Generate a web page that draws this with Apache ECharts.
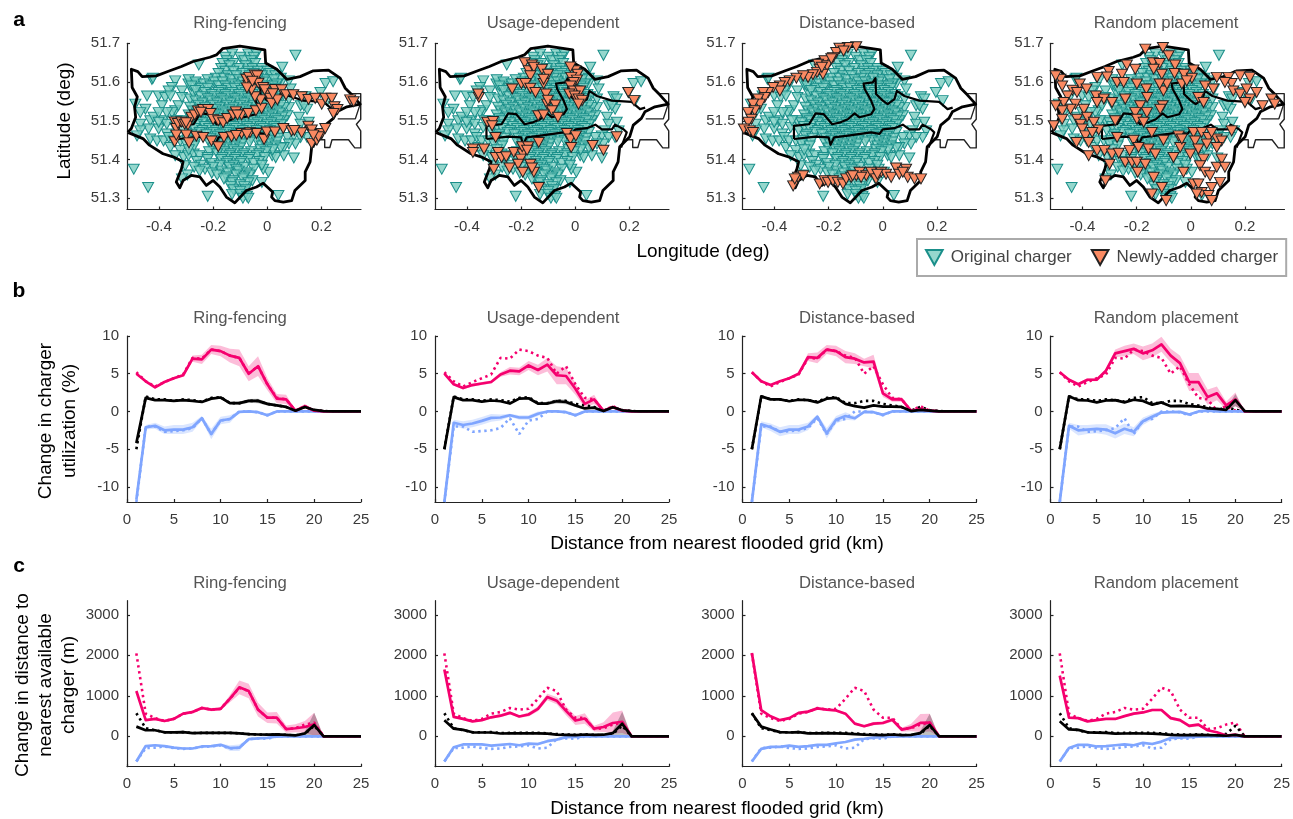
<!DOCTYPE html>
<html><head><meta charset="utf-8">
<style>html,body{margin:0;padding:0;background:#fff}#c{width:1293px;height:819px}</style>
<script src="https://cdn.jsdelivr.net/npm/echarts@6/dist/echarts.min.js"></script>
</head><body><div id="c"></div><script>
const strategies=['Ring-fencing','Usage-dependent','Distance-based','Random placement'];
const km=[1,2,3,4,5,6,7,8,9,10,11,12,13,14,15,16,17,18,19,20,21,22,23,24,25];

// ---- map outlines (lon, lat)
const londonOutline=[[-.515,51.47],[-.502,51.48],[-.486,51.509],[-.49,51.536],[-.48,51.562],[-.499,51.586],[-.502,51.633],[-.478,51.627],[-.462,51.614],[-.41,51.616],[-.36,51.629],[-.317,51.64],[-.274,51.653],[-.212,51.664],[-.188,51.67],[-.165,51.686],[-.101,51.693],[-.009,51.683],[-.006,51.649],[.035,51.633],[.072,51.607],[.121,51.614],[.17,51.629],[.226,51.631],[.269,51.61],[.288,51.584],[.312,51.567],[.343,51.543],[.294,51.536],[.257,51.523],[.244,51.506],[.214,51.489],[.201,51.459],[.164,51.433],[.158,51.394],[.14,51.368],[.14,51.346],[.102,51.32],[.09,51.294],[.059,51.29],[.028,51.294],[.016,51.303],[.02,51.316],[-.015,51.339],[-.04,51.329],[-.077,51.32],[-.12,51.288],[-.151,51.303],[-.175,51.329],[-.2,51.346],[-.225,51.333],[-.249,51.355],[-.28,51.359],[-.311,51.346],[-.323,51.327],[-.336,51.342],[-.317,51.376],[-.311,51.394],[-.348,51.407],[-.385,51.415],[-.435,51.437],[-.459,51.454],[-.515,51.47]];
const eastBox=[[.31,51.57],[.345,51.57],[.345,51.504],[.329,51.491],[.345,51.474],[.345,51.43],[.323,51.43],[.3,51.451],[.239,51.451],[.231,51.431],[.212,51.431],[.212,51.451],[.19,51.451]];
const eastInner=[[.26,51.505],[.325,51.505],[.343,51.543]];
const floodUpper=[[-.328,51.453],[-.328,51.487],[-.272,51.491],[-.248,51.519],[-.218,51.517],[-.187,51.491],[-.156,51.496],[-.129,51.504],[-.104,51.519],[-.086,51.509],[-.043,51.517],[-.031,51.53],[-.043,51.552],[-.067,51.582],[-.071,51.596],[-.037,51.599],[-.027,51.61],[-.025,51.569],[0,51.552],[.018,51.543],[.043,51.556],[.052,51.577],[.08,51.564],[.135,51.552],[.208,51.549],[.239,51.53],[.258,51.534]];
const floodLower=[[-.328,51.453],[-.248,51.459],[-.2,51.457],[-.193,51.438],[-.18,51.457],[-.135,51.461],[-.043,51.47],[-.012,51.466],[0,51.478],[.043,51.481],[.074,51.49],[.098,51.478],[.135,51.478],[.147,51.49],[.178,51.478],[.19,51.47],[.169,51.431]];

// ---- original chargers: west and east fringes read point by point, centre read row by row [lat, lon, lon, ...]
const originalWest=[[-.426,51.607],[-.34,51.603],[-.352,51.586],[-.364,51.577],[-.291,51.595],[-.26,51.595],[-.444,51.564],[-.401,51.564],[-.377,51.56],[-.389,51.539],[-.358,51.564],[-.487,51.543],[-.45,51.53],[-.469,51.521],[-.469,51.491],[-.432,51.5],[-.42,51.509],[-.383,51.5],[-.34,51.526],[-.328,51.539],[-.438,51.479],[-.401,51.479],[-.371,51.491],[-.371,51.466],[-.432,51.453],[-.407,51.448],[-.383,51.448],[-.364,51.457],[-.321,51.423],[-.358,51.431],[-.469,51.474],[-.481,51.461],[-.315,51.577],[-.315,51.56],[-.285,51.556],[-.272,51.569],[-.352,51.521],[-.371,51.521],[-.401,51.521],[-.401,51.496],[-.34,51.483],[-.346,51.448],[-.321,51.448],[-.309,51.405],[-.303,51.384],[-.291,51.41],[-.272,51.414],[-.34,51.41],[-.316,51.5],[-.31,51.475],[-.335,51.5],[-.493,51.375],[-.44,51.328],[-.22,51.305],[-.422,51.61],[-.253,51.644]];
const originalEast=[[.215,51.596],[.243,51.601],[.196,51.573],[.141,51.562],[.153,51.556],[.221,51.552],[.123,51.539],[.147,51.53],[.135,51.539],[.117,51.509],[.123,51.491],[.153,51.496],[.11,51.474],[.16,51.474],[.147,51.457],[.098,51.461],[.123,51.457],[.104,51.44],[.074,51.457],[.08,51.44],[.061,51.431],[.018,51.41],[.031,51.405],[.098,51.404],[.061,51.41],[.08,51.603],[.086,51.582],[.08,51.534],[.061,51.534],[.074,51.513],[.061,51.5],[.08,51.556],[.049,51.595],[.055,51.638],[.104,51.669],[.004,51.367],[-.015,51.375],[.041,51.307],[-.02,51.341]];
const originalRows=[
[51.672,-.13,-.07,-.04],[51.664,-.155,-.1,-.05],[51.655,-.15,-.085,-.06],[51.648,-.165,-.125,-.045],
[51.642,-.14,-.08],[51.635,-.17,-.105,-.055,-.02],[51.628,-.155,-.125,-.07,-.035,0],[51.622,-.18,-.09,-.05,.01],[51.616,-.145,-.115,-.065,-.02,.03],
[51.61,-.19,-.16,-.08,-.035,.05],[51.606,-.29,-.22,-.135,-.105,0,.025],[51.6,-.265,-.195,-.165,-.09,-.065,-.015],
[51.595,-.235,-.13,-.04,.035],[51.59,-.28,-.21,-.18,-.155,-.105,-.08,-.055,-.005,.02],
[51.584,-.245,-.22,-.145,-.12,-.07,-.02,.03],[51.578,-.265,-.17,-.095,-.045,.005],
[51.573,-.23,-.18,-.13,-.08,-.03,.02],[51.568,-.205,-.155,-.105,-.055,-.005,.045],
[51.562,-.245,-.195,-.145,-.095,-.045,.005,.055],[51.557,-.22,-.17,-.12,-.07,-.02,.03],
[51.551,-.265,-.21,-.16,-.11,-.06,-.01,.04],[51.546,-.24,-.185,-.135,-.085,-.035,.015],
[51.54,-.255,-.2,-.15,-.1,-.05,0,.05],[51.535,-.285,-.23,-.175,-.125,-.075,-.025,.025],
[51.53,-.245,-.19,-.14,-.09,-.04,.01],[51.525,-.275,-.22,-.165,-.115,-.065,-.015,.035],
[51.52,-.26,-.205,-.155,-.105,-.055,-.005,.045],[51.515,-.29,-.235,-.18,-.13,-.08,-.03,.02],
[51.51,-.25,-.195,-.145,-.095,-.045,.005,.055],[51.505,-.28,-.22,-.17,-.12,-.07,-.02,.03],
[51.5,-.27,-.21,-.16,-.11,-.06,-.01,.04],[51.495,-.3,-.24,-.185,-.135,-.085,-.035,.015],
[51.49,-.26,-.2,-.15,-.1,-.05,0,.05],[51.485,-.29,-.23,-.175,-.125,-.075,-.025,.025],
[51.48,-.27,-.215,-.165,-.115,-.065,-.015,.035],[51.475,-.24,-.19,-.14,-.09,-.04,.01],
[51.47,-.25,-.2,-.15,-.1,-.05,0,.05],[51.465,-.28,-.225,-.175,-.125,-.075,-.025,.025],
[51.46,-.285,-.185,-.135,-.085,-.035,.015],[51.455,-.26,-.21,-.16,-.11,-.06,-.01,.04],
[51.45,-.295,-.19,-.14,-.09,-.04,.01],[51.445,-.265,-.215,-.165,-.115,-.065,-.015,.035],
[51.44,-.3,-.195,-.145,-.095,.005],[51.435,-.27,-.17,-.12,-.02,.03],
[51.43,-.2,-.15,-.1,0,.05],[51.425,-.29,-.175,-.125,-.025,.02],
[51.42,-.215,-.16,-.11,-.06,-.005],[51.415,-.185,-.135,-.085,-.03],
[51.41,-.25,-.14,-.09,-.04],[51.405,-.22,-.165,-.115,-.065,-.01],
[51.4,-.22,-.17,-.12,-.07],[51.395,-.26,-.145,-.095,-.03],
[51.39,-.205,-.15,-.1,-.05],[51.385,-.245,-.175,-.125,-.02],
[51.38,-.27,-.2,-.14,-.085],[51.375,-.23,-.115,-.05],
[51.37,-.25,-.17,-.105],[51.365,-.205,-.145,-.075],
[51.36,-.295,-.185,-.115,-.065],[51.355,-.15,-.085],
[51.35,-.315,-.16,-.09],[51.345,-.125,-.055],
[51.34,-.13,-.07],[51.335,-.1],[51.33,-.135,-.085],
[51.322,-.125,-.08],[51.318,-.1],[51.31,-.13,-.1],[51.305,-.075],[51.3,-.09,-.07]
];

// ---- newly added chargers per strategy (lon, lat)
const addedRing=[[-.342,51.497],[-.336,51.48],[-.33,51.493],[-.317,51.497],[-.305,51.491],[-.293,51.489],[-.28,51.509],[-.268,51.515],[-.256,51.525],[-.237,51.529],[-.219,51.529],[-.21,51.519],[-.2,51.503],[-.181,51.5],[-.163,51.495],[-.148,51.506],[-.126,51.515],[-.116,51.523],[-.095,51.515],[-.07,51.519],[-.042,51.526],[-.021,51.532],[-.025,51.554],[-.046,51.562],[-.058,51.58],[-.07,51.592],[-.077,51.607],[-.067,51.612],[-.046,51.618],[-.037,51.616],[-.033,51.597],[-.015,51.586],[-.002,51.571],[.01,51.558],[.016,51.545],[.037,51.554],[.028,51.581],[.053,51.58],[.069,51.567],[.096,51.567],[.127,51.562],[.152,51.555],[.177,51.558],[.201,51.543],[.214,51.558],[.238,51.558],[.248,51.536],[.259,51.529],[.244,51.519],[.306,51.554],[.319,51.549],[-.342,51.446],[-.336,51.463],[-.299,51.463],[-.289,51.443],[-.262,51.46],[-.237,51.457],[-.206,51.448],[-.181,51.433],[-.16,51.457],[-.132,51.459],[-.095,51.467],[-.064,51.469],[-.04,51.467],[-.012,51.452],[-.002,51.471],[.028,51.471],[.059,51.48],[.09,51.474],[.127,51.469],[.152,51.486],[.164,51.476],[.164,51.441],[.183,51.45],[.201,51.467],[.214,51.48],[.189,51.459],[.17,51.463],[-.075,51.585],[-.055,51.602],[-.3,51.495],[-.245,51.522],[-.11,51.515],[-.01,51.58],[.02,51.57],[-.115,51.462],[-.075,51.465],[.1,51.475]];
const addedUsage=[[-.187,51.65],[-.172,51.629],[-.16,51.644],[-.153,51.638],[-.166,51.616],[-.123,51.633],[-.101,51.62],[-.233,51.582],[-.199,51.596],[-.184,51.596],[-.166,51.584],[-.147,51.573],[-.117,51.596],[-.117,51.607],[-.108,51.569],[-.104,51.543],[-.101,51.553],[-.074,51.541],[-.086,51.526],[-.137,51.513],[-.117,51.515],[-.064,51.509],[-.356,51.56],[-.358,51.569],[-.325,51.496],[-.304,51.498],[-.307,51.487],[-.294,51.457],[-.378,51.427],[-.378,51.418],[-.337,51.427],[-.285,51.418],[-.294,51.405],[-.272,51.405],[-.255,51.407],[-.227,51.418],[-.194,51.414],[-.202,51.401],[-.211,51.388],[-.194,51.367],[-.166,51.388],[-.153,51.367],[-.16,51.378],[-.301,51.375],[-.243,51.378],[-.135,51.328],[-.196,51.433],[-.174,51.433],[-.178,51.424],[-.135,51.444],[-.031,51.467],[-.018,51.453],[.002,51.461],[-.015,51.431],[.064,51.436],[.104,51.424],[.153,51.459],[.196,51.573],[.217,51.552],[0,51.629],[-.018,51.639],[.009,51.62],[-.015,51.612],[.006,51.605],[-.006,51.599],[-.018,51.59],[-.006,51.577],[-.022,51.569],[.018,51.577],[-.002,51.564],[.012,51.556],[.025,51.552],[.012,51.543]];
const addedDistance=[[-.098,51.691],[-.129,51.689],[-.16,51.687],[-.172,51.676],[-.184,51.663],[-.196,51.653],[-.215,51.655],[-.239,51.646],[-.233,51.633],[-.206,51.642],[-.221,51.62],[-.243,51.625],[-.258,51.619],[-.276,51.612],[-.294,51.616],[-.319,51.61],[-.344,51.603],[-.362,51.599],[-.38,51.59],[-.38,51.577],[-.405,51.586],[-.423,51.573],[-.442,51.573],[-.436,51.56],[-.46,51.556],[-.454,51.543],[-.479,51.543],[-.473,51.526],[-.497,51.521],[-.485,51.504],[-.497,51.496],[-.513,51.479],[-.491,51.474],[-.479,51.47],[-.331,51.332],[-.313,51.354],[-.294,51.358],[-.325,51.35],[-.233,51.337],[-.215,51.345],[-.202,51.341],[-.184,51.345],[-.166,51.341],[-.147,51.337],[-.135,51.35],[-.117,51.354],[-.098,51.358],[-.086,51.367],[-.061,51.358],[-.043,51.367],[-.025,51.35],[-.006,51.367],[.012,51.362],[.031,51.354],[.049,51.378],[.061,51.362],[.086,51.375],[.092,51.354],[.117,51.35],[.141,51.35],[.074,51.367],[-.08,51.354],[-.111,51.358],[-.02,51.362],[-.19,51.66],[-.225,51.638],[-.145,51.68]];
const addedRandom=[[-.168,51.685],[-.103,51.689],[-.082,51.668],[-.14,51.65],[-.115,51.648],[-.058,51.644],[-.236,51.644],[-.205,51.633],[-.254,51.62],[-.303,51.627],[-.309,51.613],[-.346,51.612],[-.272,51.599],[-.107,51.62],[-.06,51.622],[-.025,51.62],[.01,51.631],[.004,51.61],[-.137,51.633],[.096,51.612],[.139,51.612],[.182,51.616],[.218,51.612],[.151,51.596],[.126,51.599],[.053,51.59],[.083,51.582],[.157,51.577],[.182,51.569],[.206,51.582],[.243,51.573],[.218,51.556],[.2,51.547],[.265,51.539],[.298,51.556],[.31,51.543],[.028,51.56],[.047,51.547],[-.481,51.607],[-.475,51.59],[-.499,51.616],[-.41,51.595],[-.437,51.579],[-.455,51.564],[-.42,51.573],[-.385,51.582],[-.35,51.564],[-.321,51.556],[-.346,51.547],[-.395,51.53],[-.426,51.543],[-.469,51.547],[-.444,51.53],[-.475,51.526],[-.499,51.539],[-.475,51.504],[-.506,51.487],[-.42,51.504],[-.383,51.509],[-.407,51.491],[-.358,51.496],[-.34,51.476],[-.401,51.479],[-.389,51.461],[-.364,51.47],[-.422,51.444],[-.377,51.444],[-.346,51.423],[-.319,51.423],[-.377,51.41],[-.291,51.414],[-.266,51.416],[-.226,51.423],[-.3,51.388],[-.242,51.393],[-.217,51.393],[-.199,51.393],[-.168,51.388],[-.196,51.367],[-.137,51.354],[-.107,51.328],[-.144,51.311],[-.091,51.294],[-.315,51.345],[-.248,51.599],[-.199,51.595],[-.164,51.582],[-.161,51.56],[-.242,51.556],[-.291,51.547],[-.187,51.539],[-.205,51.521],[-.162,51.521],[-.104,51.539],[-.113,51.53],[-.279,51.5],[-.199,51.504],[-.174,51.496],[-.101,51.577],[-.088,51.595],[-.115,51.595],[-.033,51.595],[-.015,51.603],[-.144,51.47],[-.101,51.45],[-.211,51.45],[-.272,51.457],[-.156,51.427],[-.131,51.414],[-.193,51.431],[-.039,51.431],[-.064,51.405],[-.045,51.461],[-.033,51.453],[.01,51.47],[.04,51.47],[.065,51.457],[.096,51.453],[.114,51.448],[.016,51.448],[.059,51.44],[.096,51.431],[.114,51.401],[.151,51.474],[.077,51.47],[.028,51.427],[.047,51.401],[.034,51.384],[-.002,51.414],[.053,51.367],[.071,51.358],[.096,51.38],[.126,51.38],[-.027,51.367],[.01,51.337],[.028,51.337],[.077,51.328],[.108,51.341],[.04,51.315],[.065,51.307],[.077,51.294],[.022,51.311]];
const addedByStrategy=[addedRing,addedUsage,addedDistance,addedRandom];

// ---- panel b: change in charger utilization (%)
const utilPinkBase=[5.2,4,3.3,3.9,4.4,4.9,7.1,7,8.2,8,7.4,7.1,5,6,3.6,1.8,1.6,.1,.7,.1,0,0,0,0,0];
const utilBlackBase=[-5,2,1.6,1.6,1.4,1.6,1.5,1.3,1.8,1.9,1.1,1.1,1.4,1.4,1,.8,.6,.1,.6,.2,.05,0,0,0,0];
const utilBlueBase=[-12,-2,-2,-2.7,-2.6,-2.5,-2.2,-.9,-3,-1.2,-1,0,0,-.1,-.5,0,0,0,0,0,0,0,0,0,0];
const utilPink=[
[5,4,3.2,3.9,4.4,4.8,7,6.9,8.2,8,7.4,7.1,5,6,3.6,1.7,1.6,.1,.7,.1,0,0,0,0,0],
[5,3.6,3.1,3.5,3.7,3.9,4.9,5.4,5.3,6.1,5.5,6.2,4.8,4.7,3,1,1.6,.1,.6,.1,0,0,0,0,0],
[5.2,4,3.5,4,4.4,5,7.2,7.1,8.2,8,7.2,7,6.5,6.6,2.4,1.6,1.6,.1,.3,.1,0,0,0,0,0],
[5.2,4.2,3.6,4.2,4.2,5.4,7.7,8,8.3,7.7,8.1,8.9,7.4,6.4,3.9,3.9,1.9,2.4,.8,1.6,0,0,0,0,0]];
const utilBlack=[
[-4.2,1.8,1.5,1.5,1.4,1.5,1.4,1.25,1.7,1.85,1.1,1.1,1.4,1.4,1,.8,.6,.1,.6,.2,.05,0,0,0,0],
[-5,1.9,1.5,1.5,1.3,1.45,1.35,1.05,1.7,1.75,1.05,1.05,1.35,1.25,.8,.4,.5,.05,.55,.15,.05,0,0,0,0],
[-5,2,1.6,1.6,1.35,1.55,1.5,1.2,1.7,1.8,1,.7,.5,.8,.65,.65,.6,.05,.2,.1,0,0,0,0,0],
[-5,2,1.5,1.45,1.2,1.45,1.5,1.2,1.55,1.4,.9,1.2,.7,.75,.7,.65,.4,.35,.2,1.5,.05,0,0,0,0]];
const utilBlue=[
[-11.7,-2.1,-1.9,-2.5,-2.4,-2.4,-2.1,-.9,-3,-1.2,-1,-.05,0,-.1,-.5,0,0,0,0,0,0,0,0,0,0],
[-12,-1.5,-1.8,-1.6,-1.25,-.85,-.8,-.5,-.8,-.8,-.3,0,0,-.1,-.5,0,0,0,0,0,0,0,0,0,0],
[-12,-1.7,-2.1,-2.7,-2.4,-2.4,-2,-.7,-2.9,-1.1,-.6,-.9,-.05,-.1,-.45,0,0,0,0,0,0,0,0,0,0],
[-12,-1.9,-2.5,-2.4,-2.3,-2.4,-2.9,-2.3,-2.7,-1.3,-.7,-.15,-.1,-.05,-.4,0,.1,0,0,0,0,0,0,0,0]];
const utilPinkSpread=[
[.1,.1,.15,.15,.15,.2,.4,.6,.6,.7,.9,1.1,1,1.3,.8,.6,.6,.1,.3,.1,0,0,0,0,0],
[.1,.15,.2,.2,.2,.2,.3,.5,.5,.6,.7,.9,1.2,1.1,.8,.5,.6,.1,.2,.1,0,0,0,0,0],
[.1,.1,.1,.1,.15,.2,.5,.7,.6,.7,.8,.7,.5,.9,.5,.3,.3,.1,.2,.1,0,0,0,0,0],
[.1,.2,.2,.2,.2,.3,.5,.7,.7,.9,.9,1,.9,1,1.2,1.2,1,.9,.5,.9,0,0,0,0,0]];
const utilBlackSpread=[
[.1,.1,.1,.1,.1,.1,.1,.1,.15,.15,.15,.2,.25,.3,.2,.15,.1,.05,.1,.05,0,0,0,0,0],
[.1,.1,.1,.1,.1,.1,.1,.1,.15,.15,.15,.2,.3,.3,.2,.15,.1,.05,.1,.05,0,0,0,0,0],
[.05,.05,.05,.05,.05,.05,.05,.1,.1,.1,.1,.1,.1,.1,.1,.1,.1,.05,.1,.05,0,0,0,0,0],
[.05,.05,.1,.1,.1,.1,.1,.1,.1,.15,.15,.15,.15,.15,.1,.1,.1,.1,.1,.8,0,0,0,0,0]];
const utilBlueSpread=[
[.1,.3,.4,.5,.6,.6,.6,.3,.7,.5,.5,.1,.1,.1,.2,.05,0,0,0,0,0,0,0,0,0],
[.1,.4,.5,.5,.5,.5,.4,.2,.3,.3,.3,.1,.1,.1,.2,.05,0,0,0,0,0,0,0,0,0],
[.1,.4,.5,.6,.6,.6,.5,.3,.7,.5,.5,.3,.1,.1,.2,.05,0,0,0,0,0,0,0,0,0],
[.1,.4,.7,.6,.6,.7,.7,.7,.6,.5,.4,.2,.1,.1,.2,.05,0,0,0,0,0,0,0,0,0]];

// ---- panel c: change in distance to nearest available charger (m)
const distPinkBase=[2050,560,450,380,430,560,600,700,660,680,930,1200,1120,660,460,460,180,200,290,340,0,0,0,0,0];
const distBlackBase=[570,200,150,100,100,105,80,85,85,85,85,75,55,45,40,50,35,20,60,260,0,0,0,0,0];
const distBlueBase=[-620,-290,-280,-250,-290,-310,-300,-260,-250,-220,-300,-280,-70,-50,-60,-5,0,0,0,0,0,0,0,0,0];
const distPink=[
[1120,400,430,380,430,560,600,700,660,680,930,1210,1120,660,460,460,180,200,230,300,0,0,0,0,0],
[1650,480,430,370,400,470,510,580,490,540,680,970,880,630,390,440,190,230,330,360,0,0,0,0,0],
[2060,645,495,400,450,580,610,690,660,640,560,315,250,315,330,410,165,215,330,340,0,0,0,0,0],
[1500,460,450,370,400,430,430,500,560,590,650,650,450,400,260,290,150,100,20,40,0,0,0,0,0]];
const distBlack=[
[240,150,150,100,100,105,80,85,85,85,85,75,55,45,40,50,35,25,70,280,0,0,0,0,0],
[400,190,160,100,95,95,70,75,75,75,75,65,40,35,30,45,35,40,80,310,0,0,0,0,0],
[570,240,170,105,95,105,75,75,80,75,65,55,40,35,30,45,30,35,80,280,0,0,0,0,0],
[370,170,160,100,90,85,65,70,75,70,65,55,35,30,30,35,30,25,15,35,0,0,0,0,0]];
const distBlue=[
[-620,-240,-220,-240,-280,-300,-300,-250,-240,-210,-290,-280,-70,-50,-40,-5,0,0,0,0,0,0,0,0,0],
[-620,-270,-200,-200,-200,-230,-210,-190,-220,-180,-190,-120,-80,-20,-15,0,0,0,0,0,0,0,0,0,0],
[-620,-310,-260,-260,-230,-260,-240,-210,-210,-170,-140,-80,-60,-30,-15,-5,0,0,0,0,0,0,0,0,0],
[-620,-290,-210,-210,-250,-240,-220,-200,-220,-160,-190,-130,-40,-30,-20,-10,0,0,0,0,0,0,0,0,0]];
const distPinkSpread=[
[20,20,30,30,30,30,40,40,40,40,90,170,180,170,130,140,90,100,150,280,0,0,0,0,0],
[20,30,30,30,30,30,40,40,30,50,60,80,90,110,110,130,70,120,260,280,0,0,0,0,0],
[20,20,20,20,20,25,30,30,30,30,30,30,30,40,40,50,50,90,220,220,0,0,0,0,0],
[20,20,20,20,20,20,20,30,30,30,30,30,40,40,40,40,30,20,10,20,0,0,0,0,0]];
const distBlackSpread=[
[10,5,5,5,5,5,5,5,5,5,5,5,5,5,5,5,5,5,50,300,0,0,0,0,0],
[10,5,5,5,5,5,5,5,5,5,5,5,5,5,5,5,5,5,50,300,0,0,0,0,0],
[10,5,5,5,5,5,5,5,5,5,5,5,5,5,5,5,5,5,50,280,0,0,0,0,0],
[10,5,5,5,5,5,5,5,5,5,5,5,5,5,5,5,5,5,5,20,0,0,0,0,0]];
const distBlueSpread=[
[10,20,20,20,20,20,20,20,20,30,70,80,20,10,10,5,0,0,0,0,0,0,0,0,0],
[10,20,20,20,20,20,20,20,20,20,30,30,20,10,10,5,0,0,0,0,0,0,0,0,0],
[10,20,20,20,20,20,20,20,20,20,20,20,20,10,10,5,0,0,0,0,0,0,0,0,0],
[10,20,20,20,20,20,20,20,20,20,30,30,20,10,10,5,0,0,0,0,0,0,0,0,0]];

const lonTicks=[-.4,-.2,0,.2], latTicks=[51.3,51.4,51.5,51.6,51.7];
const utilTicks=[-10,-5,0,5,10], distTicks=[0,1000,2000,3000];

const FONT='"Liberation Sans", Arial, sans-serif';
const PINK='#F5006E',BLUE='#7FA5FF',BLACK='#000',TEAL='#1A8F8A';
const lefts=[127,435,742.5,1050.5], W=234;
const rowTop=[43.3,336,600.7], rowH=[166.2,166,166];
const original=originalWest.concat(originalEast,originalRows.flatMap(r=>r.slice(1).map(lon=>[lon,r[0]])));
const tri='path://M0 0L10 0L5 9Z';
const zip=(v)=>km.map((k,i)=>[k,v[i]]);

const grid=[],xAxis=[],yAxis=[],series=[];
function axisBase(){return{
  axisLine:{show:true,onZero:false,lineStyle:{color:'#222',width:1.2}},
  axisTick:{show:true,inside:true,length:3,lineStyle:{color:'#222',width:1.2}},
  splitLine:{show:false},
  axisLabel:{color:'#3a3a3a',fontSize:15,fontFamily:FONT,margin:8}};}
function addAxes(row,p,xo,yo){
  grid.push({left:lefts[p],top:rowTop[row],width:W,height:rowH[row],show:false});
  const xb=axisBase(),yb=axisBase();
  xAxis.push(Object.assign(xb,{type:'value',gridIndex:grid.length-1},xo,{axisLabel:Object.assign(xb.axisLabel,xo.axisLabel||{}),axisTick:Object.assign(xb.axisTick,xo.axisTick||{})}));
  yAxis.push(Object.assign(yb,{type:'value',gridIndex:grid.length-1},yo,{axisLabel:Object.assign(yb.axisLabel,{padding:[3,0,0,0]},yo.axisLabel||{}),axisTick:Object.assign(yb.axisTick,yo.axisTick||{})}));
  return grid.length-1;
}
function mapLine(g,data,width,color){series.push({type:'line',xAxisIndex:g,yAxisIndex:g,data,showSymbol:false,silent:true,clip:false,lineStyle:{color:color||'#000',width,join:'round'},z:3});}
function bandSeries(g,mid,spread,fill){
  const data=km.map((k,i)=>[k,mid[i]-spread[i],mid[i]+spread[i]]);
  series.push({type:'custom',xAxisIndex:g,yAxisIndex:g,silent:true,clip:true,data,encode:{x:0,y:[1,2]},z:2,
    renderItem(params,api){
      if(params.dataIndex!==0)return null;
      const up=data.map(d=>api.coord([d[0],d[2]])),dn=data.map(d=>api.coord([d[0],d[1]])).reverse();
      return{type:'polygon',shape:{points:up.concat(dn)},style:{fill},
        clipPath:{type:'rect',shape:{x:params.coordSys.x,y:params.coordSys.y,width:params.coordSys.width,height:params.coordSys.height}}};
    }});
}
function curve(g,v,color,dotted){series.push({type:'line',xAxisIndex:g,yAxisIndex:g,data:zip(v),showSymbol:false,silent:true,z:2,
  lineStyle:dotted?{color,width:2.6,type:[2.4,3.6]}:{color,width:2.7,join:'round'}});}

strategies.forEach((name,p)=>{
  const g=addAxes(0,p,
    {min:-.518,max:.346,axisLabel:{customValues:lonTicks,formatter:v=>v===0?'0':v.toFixed(1),margin:10},axisTick:{customValues:lonTicks}},
    {min:51.271,max:51.7,axisLabel:{customValues:latTicks,formatter:v=>v.toFixed(1),margin:7},axisTick:{customValues:latTicks}});
  series.push({type:'scatter',name:'Original charger',xAxisIndex:g,yAxisIndex:g,data:original,symbol:tri,symbolSize:[11,10],silent:true,clip:false,
    itemStyle:{color:'rgba(122,205,192,.8)',borderColor:TEAL,borderWidth:1,opacity:1},z:2});
  mapLine(g,eastBox,1.4,'#222'); mapLine(g,eastInner,1.4,'#222');
  mapLine(g,londonOutline,2.8); mapLine(g,floodUpper,2.2); mapLine(g,floodLower,2.2);
  series.push({type:'scatter',name:'Newly-added charger',xAxisIndex:g,yAxisIndex:g,data:addedByStrategy[p],symbol:tri,symbolSize:[11,10],silent:true,clip:false,
    itemStyle:{color:'#FA8A62',borderColor:'#222',borderWidth:1,opacity:1},z:4});
});
[[1,utilPinkBase,utilBlackBase,utilBlueBase,utilPink,utilBlack,utilBlue,utilPinkSpread,utilBlackSpread,utilBlueSpread,{min:-12,max:10,axisLabel:{customValues:utilTicks,margin:8},axisTick:{customValues:utilTicks}},10],
 [2,distPinkBase,distBlackBase,distBlueBase,distPink,distBlack,distBlue,distPinkSpread,distBlackSpread,distBlueSpread,{min:-750,max:3350,axisLabel:{customValues:distTicks,formatter:v=>String(v),margin:8},axisTick:{customValues:distTicks}},10]
].forEach(([row,pb,kb,bb,ps,ks,bs,psp,ksp,bsp,yo,xm])=>{
  strategies.forEach((name,p)=>{
    const g=addAxes(row,p,{min:0,max:25,interval:5,axisLabel:{margin:xm}},yo);
    curve(g,bb,BLUE,true);curve(g,pb,PINK,true);curve(g,kb,BLACK,true);
    bandSeries(g,bs[p],bsp[p],'rgba(127,165,255,.28)');curve(g,bs[p],BLUE,false);
    bandSeries(g,ps[p],psp[p],'rgba(245,0,110,.26)');curve(g,ps[p],PINK,false);
    bandSeries(g,ks[p],ksp[p],'rgba(0,0,0,.25)');curve(g,ks[p],BLACK,false);
  });
});

function txt(text,x,y,size,fill,opt){return Object.assign({type:'text',x,y,silent:true,style:{text,fill,font:(opt&&opt.bold?'bold ':'')+size+'px '+FONT,align:'center',verticalAlign:'middle'}},opt&&opt.rot?{rotation:Math.PI/2}:{});}
const elements=[];
const titleX=[240,553,857,1166], titleY=[23,318,583];
titleY.forEach(y=>strategies.forEach((s,i)=>elements.push(txt(s,titleX[i],y,16.7,'#555'))));
elements.push(txt('a',19,20,21,'#000',{bold:true}),txt('b',19,291,21,'#000',{bold:true}),txt('c',19,566,21,'#000',{bold:true}));
elements.push(txt('Longitude (deg)',703,252,19,'#000'));
elements.push(txt('Distance from nearest flooded grid (km)',717,544,19,'#000'));
elements.push(txt('Distance from nearest flooded grid (km)',717,809,19,'#000'));
elements.push(txt('Latitude (deg)',65,121,19,'#000',{rot:true}));
elements.push(txt('Change in charger',46,421,19,'#000',{rot:true}),txt('utilization (%)',70,421,19,'#000',{rot:true}));
elements.push(txt('Change in distance to',23,685,19,'#000',{rot:true}),txt('nearest available',46,685,19,'#000',{rot:true}),txt('charger (m)',69,685,19,'#000',{rot:true}));

const chart=echarts.init(document.getElementById('c'),null,{width:1293,height:819});
chart.setOption({animation:false,backgroundColor:'#fff',grid,xAxis,yAxis,series,
  graphic:{elements},
  legend:{data:['Original charger','Newly-added charger'],left:917,top:239,orient:'horizontal',padding:[10,8,10,8],itemGap:19,itemWidth:17,itemHeight:15,
    borderColor:'#aaa',borderWidth:2,backgroundColor:'#fff',selectedMode:false,textStyle:{color:'#444',fontSize:17,fontFamily:FONT,padding:[0,0,0,3]},z:10}
});
</script></body></html>
